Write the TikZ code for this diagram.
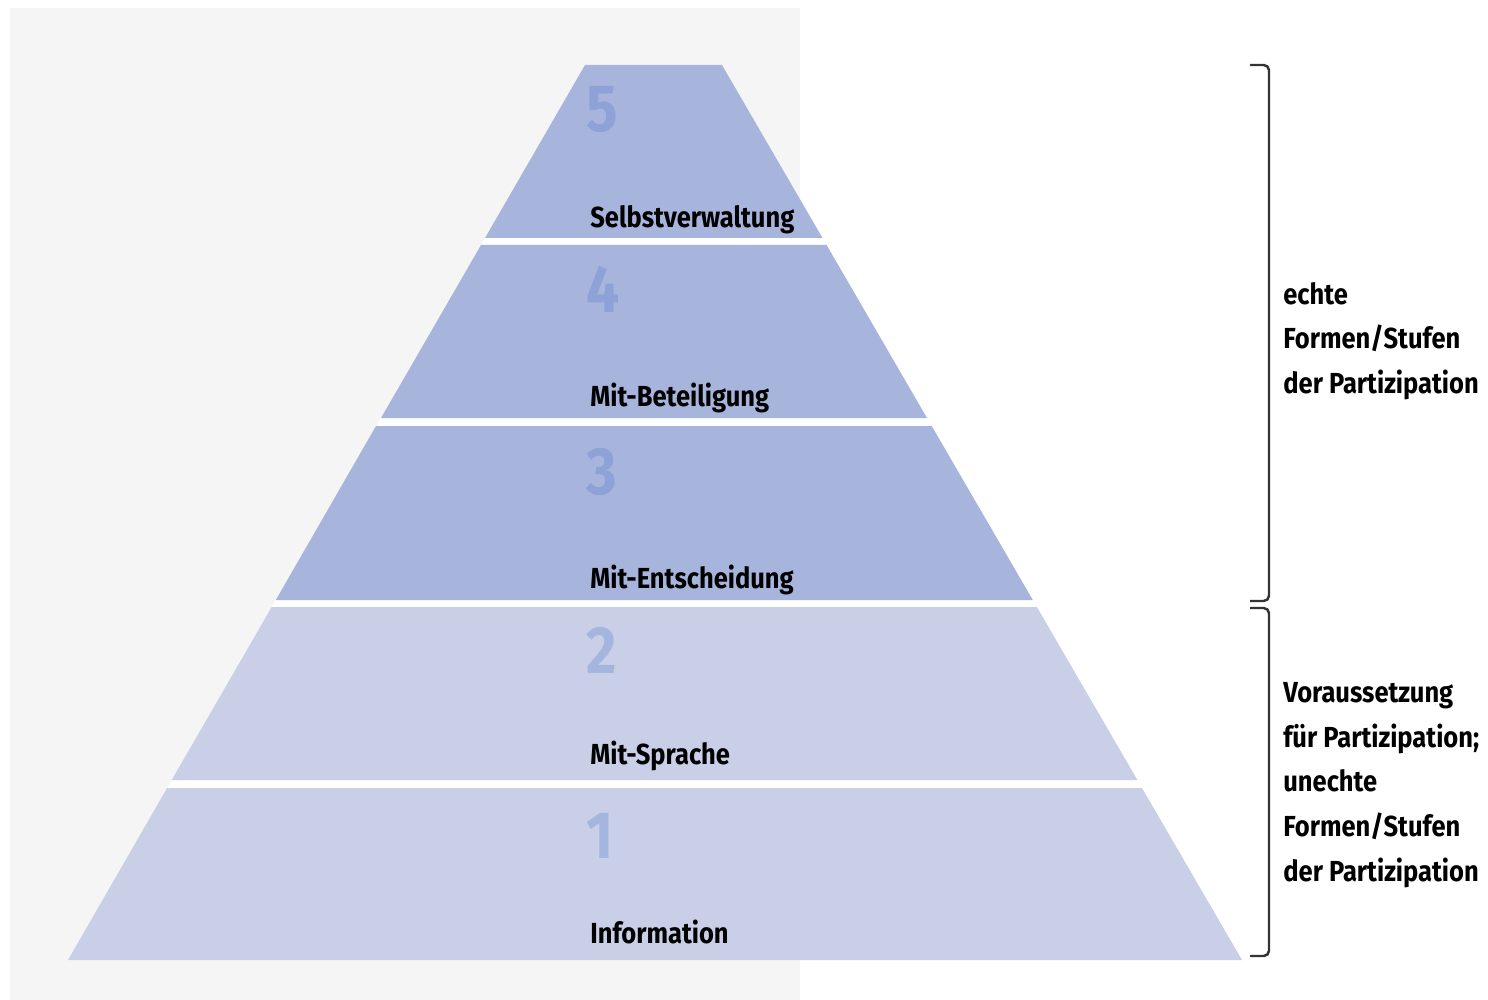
\documentclass[tikz,border=0pt]{standalone}
\usepackage{fontspec}
\setmainfont[FakeStretch=0.88]{Fira Sans}
\usepackage{xcolor}
\usepackage{tikz}
\usetikzlibrary{positioning}

\definecolor{bggray}{HTML}{F5F5F5}
\definecolor{upperfill}{HTML}{A7B4DC}
\definecolor{lowerfill}{HTML}{C8CFE6}
\definecolor{uppernum}{HTML}{8EA2D8}
\definecolor{lowernum}{HTML}{A4B5DF}
\definecolor{bracegray}{HTML}{333333}

\begin{document}
\begin{tikzpicture}[x=0.02cm,y=-0.02cm,
	label/.style={anchor=base west,inner sep=0pt,font=\fontsize{16.5}{20}\selectfont\bfseries},
	num/.style={anchor=base west,inner sep=0pt,font=\fontsize{38}{40}\selectfont\bfseries},
	side/.style={anchor=west,inner sep=0pt,align=left,font=\fontsize{16.5}{25.4}\selectfont\bfseries},
	bracket/.style={draw=bracegray,line width=1.4pt,rounded corners=3pt}]
	\useasboundingbox (0,0) rectangle (1488,1000);
	\fill[bggray] (10,8) rectangle (800,1000);
	% pyramid
	\fill[white] (585,65) -- (722,65) -- (1242,960) -- (68,960) -- cycle;
	\fill[upperfill] (585,65) -- (722,65) -- (822.5,238) -- (485,238) -- cycle;
	\fill[upperfill] (481,245) -- (826.6,245) -- (927,418) -- (381,418) -- cycle;
	\fill[upperfill] (376,426) -- (931.7,426) -- (1032.8,600) -- (275.8,600) -- cycle;
	\fill[lowerfill] (271.7,607) -- (1036.9,607) -- (1137.4,780) -- (171.7,780) -- cycle;
	\fill[lowerfill] (167.1,788) -- (1142,788) -- (1242,960) -- (68,960) -- cycle;
	% numbers
	\node[num,text=uppernum] (N5) at (586,132) {5};
	\node[num,text=uppernum] (N4) at (586,313) {4};
	\node[num,text=uppernum] (N3) at (586,494) {3};
	\node[num,text=lowernum] (N2) at (586,673) {2};
	\node[num,text=lowernum] (N1) at (586,858) {1};
	% labels
	\node[label] (L5) at (590,228) {Selbstverwaltung};
	\node[label] (L4) at (590,406) {Mit-Beteiligung};
	\node[label] (L3) at (590,588) {Mit-Entscheidung};
	\node[label] (L2) at (590,764) {Mit-Sprache};
	\node[label] (L1) at (590,943) {Information};
	% brackets
	\draw[bracket] (1250,65) -- (1269,65) -- (1269,601) -- (1250,601);
	\draw[bracket] (1250,608) -- (1269,608) -- (1269,956) -- (1250,956);
	\node[side] (T1) at (1283,341) {echte\\Formen/Stufen\\der Partizipation};
	\node[side] (T2) at (1283,785) {Voraussetzung\\für Partizipation;\\unechte\\Formen/Stufen\\der Partizipation};
\end{tikzpicture}
\end{document}
